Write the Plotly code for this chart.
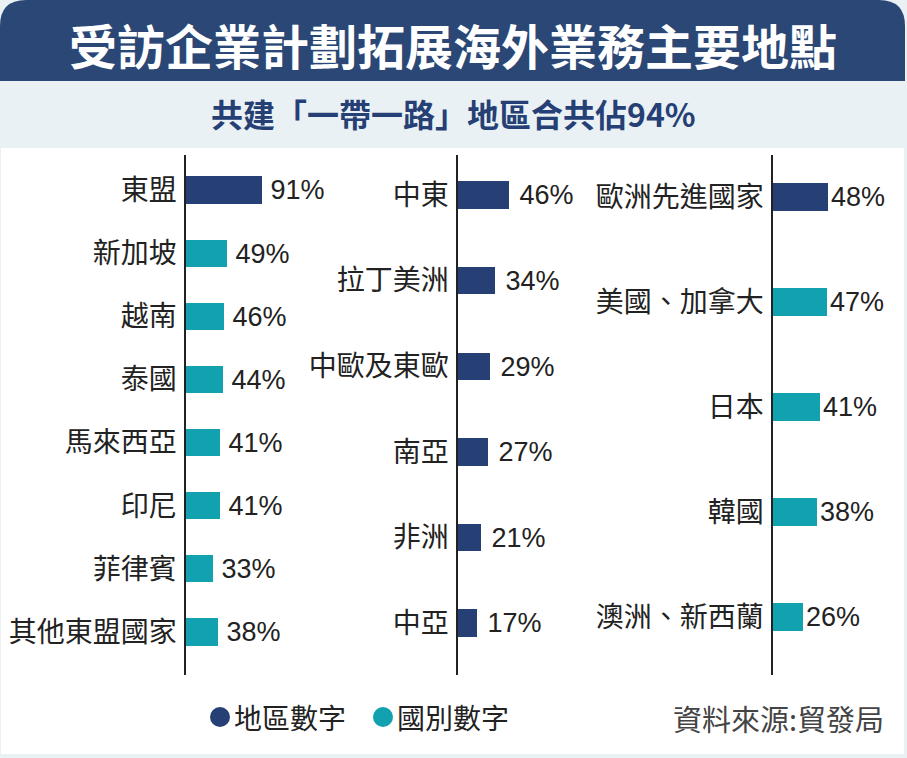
import plotly.graph_objects as go

# 資料
col1_names = ['東盟', '新加坡', '越南', '泰國', '馬來西亞', '印尼', '菲律賓', '其他東盟國家']
col1_values = [91, 49, 46, 44, 41, 41, 33, 38]
col1_types = ['地區', '國別', '國別', '國別', '國別', '國別', '國別', '國別']

col2_names = ['中東', '拉丁美洲', '中歐及東歐', '南亞', '非洲', '中亞']
col2_values = [46, 34, 29, 27, 21, 17]
col2_types = ['地區', '地區', '地區', '地區', '地區', '地區']

col3_names = ['歐洲先進國家', '美國、加拿大', '日本', '韓國', '澳洲、新西蘭']
col3_values = [48, 47, 41, 38, 26]
col3_types = ['地區', '國別', '國別', '國別', '國別']

legend_labels = ['地區數字', '國別數字']

NAVY = '#263f75'
TEAL = '#12a1af'
TYPE_COLOR = {'地區': NAVY, '國別': TEAL}

W, H = 907, 758
FONT = 'Noto Sans CJK TC'

fig = go.Figure()

# (名稱, 數值, 類別, x軸, y軸, 柱寬, 標籤前空白)
columns = [
    (col1_names, col1_values, col1_types, 'x', 'y', 0.43, '\u2009'),
    (col2_names, col2_values, col2_types, 'x2', 'y2', 0.32, ' '),
    (col3_names, col3_values, col3_types, 'x3', 'y3', 0.27, ''),
]
for names, values, types, xa, ya, bw, pad in columns:
    fig.add_trace(go.Bar(
        x=values, y=names, orientation='h',
        xaxis=xa, yaxis=ya, width=bw,
        marker=dict(color=[TYPE_COLOR[t] for t in types], line=dict(width=0)),
        text=[f'{pad}{v}%' for v in values], textposition='outside',
        constraintext='none',
        textfont=dict(family='Liberation Sans, Arial', size=27, color='#222'),
        cliponaxis=False, showlegend=False, hoverinfo='skip'
    ))

def px_x(p):
    return p / W

def px_y(p):
    return 1 - p / H

dom_y = [px_y(675), px_y(155)]

def xaxis(x0, scale):
    return dict(domain=[px_x(x0), px_x(x0 + 100 * scale)], range=[0, 100],
                visible=False, fixedrange=True)

def yaxis(anchor, n, top, bottom):
    return dict(domain=dom_y, anchor=anchor, range=[n - 1 + bottom, -top],
                showline=True, linecolor='#222', linewidth=1.5,
                ticks='', showgrid=False, zeroline=False,
                ticklabelstandoff=2,
                tickfont=dict(family=FONT, size=28, color='#222'))

shapes = [
    # 白色底板
    dict(type='rect', xref='paper', yref='paper', layer='below',
         x0=px_x(1), x1=px_x(904), y0=px_y(754), y1=px_y(148),
         fillcolor='white', line=dict(width=0)),
    # 標題底色（上方圓角）
    dict(type='path', xref='paper', yref='paper', layer='below',
         path=(f'M 0 {px_y(81)} L 0 {px_y(26)} '
               f'Q 0 1 {px_x(26)} 1 L {px_x(879)} 1 '
               f'Q {px_x(905)} 1 {px_x(905)} {px_y(26)} L {px_x(905)} {px_y(81)} Z'),
         fillcolor='#2a4776', line=dict(width=0)),
]

annotations = [
    dict(text='<b>受訪企業計劃拓展海外業務主要地點</b>', xref='paper', yref='paper',
         x=px_x(453), y=px_y(44), showarrow=False, xanchor='center', yanchor='middle',
         font=dict(family=FONT, size=48, color='white')),
    dict(text='<b>共建「一帶一路」地區合共佔94%</b>', xref='paper', yref='paper',
         x=px_x(453), y=px_y(113), showarrow=False, xanchor='center', yanchor='middle',
         font=dict(family=FONT, size=32, color='#263f75')),
    dict(text='資料來源:貿發局', xref='paper', yref='paper',
         x=px_x(886), y=px_y(718), showarrow=False, xanchor='right', yanchor='middle',
         font=dict(family=FONT, size=29, color='#444')),
]

# 圖例（圓點 + 文字）
for i, (label, color) in enumerate(zip(legend_labels, [NAVY, TEAL])):
    cx = 220 + i * 163
    shapes.append(dict(type='circle', xref='paper', yref='paper',
                       x0=px_x(cx - 10), x1=px_x(cx + 10),
                       y0=px_y(727), y1=px_y(707),
                       fillcolor=color, line=dict(width=0)))
    annotations.append(dict(text=label, xref='paper', yref='paper',
                            x=px_x(cx + 12), y=px_y(717), showarrow=False,
                            xanchor='left', yanchor='middle',
                            font=dict(family=FONT, size=28, color='#222')))

fig.update_layout(
    width=W, height=H,
    margin=dict(l=0, r=0, t=0, b=0),
    paper_bgcolor='#e9f1f4', plot_bgcolor='rgba(0,0,0,0)',
    font=dict(family=FONT, color='#222'),
    xaxis=xaxis(186, 0.83),
    xaxis2=xaxis(458, 1.10),
    xaxis3=xaxis(773, 1.15),
    yaxis=yaxis('x', len(col1_names), 0.555, 0.68),
    yaxis2=yaxis('x2', len(col2_names), 0.467, 0.607),
    yaxis3=yaxis('x3', len(col3_names), 0.40, 0.552),
    bargap=0,
    showlegend=False,
    shapes=shapes,
    annotations=annotations,
)

fig.write_html('out.html', config={'displayModeBar': False},
               post_script="document.body.style.margin='0';")
